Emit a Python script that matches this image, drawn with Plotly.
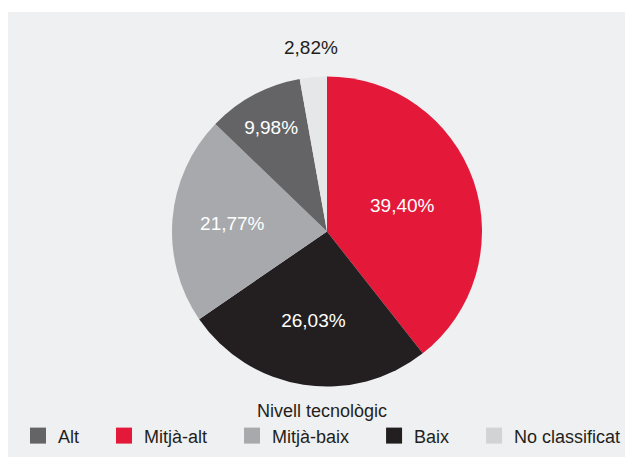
import math
import plotly.graph_objects as go

# ---- data ----
categories = ["Mitjà-alt", "Baix", "Mitjà-baix", "Alt", "No classificat"]
values = [39.40, 26.03, 21.77, 9.98, 2.82]
value_labels = ["39,40%", "26,03%", "21,77%", "9,98%", "2,82%"]
slice_colors = ["#e4193a", "#231f20", "#a7a9ac", "#646467", "#e6e7e8"]

legend_labels = ["Alt", "Mitjà-alt", "Mitjà-baix", "Baix", "No classificat"]
legend_colors = ["#646467", "#e4193a", "#a7a9ac", "#231f20", "#d1d3d4"]
legend_title = "Nivell tecnològic"

FONT = "Liberation Sans, Arial, sans-serif"
W, H = 633, 457

# pie geometry (pixels in figure)
PIE_L, PIE_R, PIE_T, PIE_B = 164, 474, 68.5, 378.5
cx, cy = (PIE_L + PIE_R) / 2, (PIE_T + PIE_B) / 2
R = (PIE_R - PIE_L) / 2

fig = go.Figure()

# small slices get their label outside (as annotation), others inside
inside = [v >= 5 for v in values]
fig.add_trace(go.Pie(
    labels=categories,
    values=values,
    text=[t if ins else "" for t, ins in zip(value_labels, inside)],
    textinfo="text",
    texttemplate="%{text}",
    textposition=["inside" if ins else "none" for ins in inside],
    insidetextorientation="horizontal",
    insidetextfont=dict(family=FONT, size=19, color="#ffffff"),
    marker=dict(colors=slice_colors, line=dict(width=0)),
    sort=False,
    direction="clockwise",
    rotation=0,
    showlegend=False,
    hoverinfo="skip",
    domain=dict(x=[PIE_L / W, PIE_R / W], y=[(H - PIE_B) / H, (H - PIE_T) / H]),
))

# outside labels positioned at the slice's mid-angle
total = sum(values)
annotations = []
cum = 0.0
for v, t, ins in zip(values, value_labels, inside):
    mid = (cum + v / 2) / total * 2 * math.pi
    cum += v
    if ins:
        continue
    r = R * 1.19
    px = cx + r * math.sin(mid)
    py = cy - r * math.cos(mid)
    annotations.append(dict(
        x=px / W, y=(H - py) / H, xref="paper", yref="paper",
        text=t, showarrow=False, xanchor="center", yanchor="middle",
        font=dict(family=FONT, size=19, color="#231f20"),
    ))

pad = "\u00a0" * 4
for i, (lab, col) in enumerate(zip(legend_labels, legend_colors)):
    name = lab + (pad if i < len(legend_labels) - 1 else "")
    fig.add_trace(go.Scatter(
        x=[None], y=[None], mode="markers", name=name,
        marker=dict(symbol="square", size=16, color=col),
        hoverinfo="skip",
    ))

fig.update_xaxes(visible=False)
fig.update_yaxes(visible=False)

fig.update_layout(
    width=W, height=H,
    margin=dict(l=0, r=0, t=0, b=0),
    paper_bgcolor="#eff0f2",
    plot_bgcolor="rgba(0,0,0,0)",
    font=dict(family=FONT, size=18, color="#231f20"),
    annotations=annotations,
    shapes=[dict(
        type="rect", xref="paper", yref="paper",
        x0=0, x1=1, y0=(H - 4) / H, y1=1,
        fillcolor="#ffffff", line=dict(width=0), layer="below",
    )],
    legend=dict(
        orientation="h",
        x=(322 - 8) / W, xanchor="center",
        y=(H - 386) / H, yanchor="top",
        title=dict(text=legend_title, side="top center",
                   font=dict(family=FONT, size=18, color="#231f20")),
        font=dict(family=FONT, size=18, color="#231f20"),
        bgcolor="rgba(0,0,0,0)",
        itemwidth=30,
        tracegroupgap=0,
    ),
)

fig.write_html("out.html")
